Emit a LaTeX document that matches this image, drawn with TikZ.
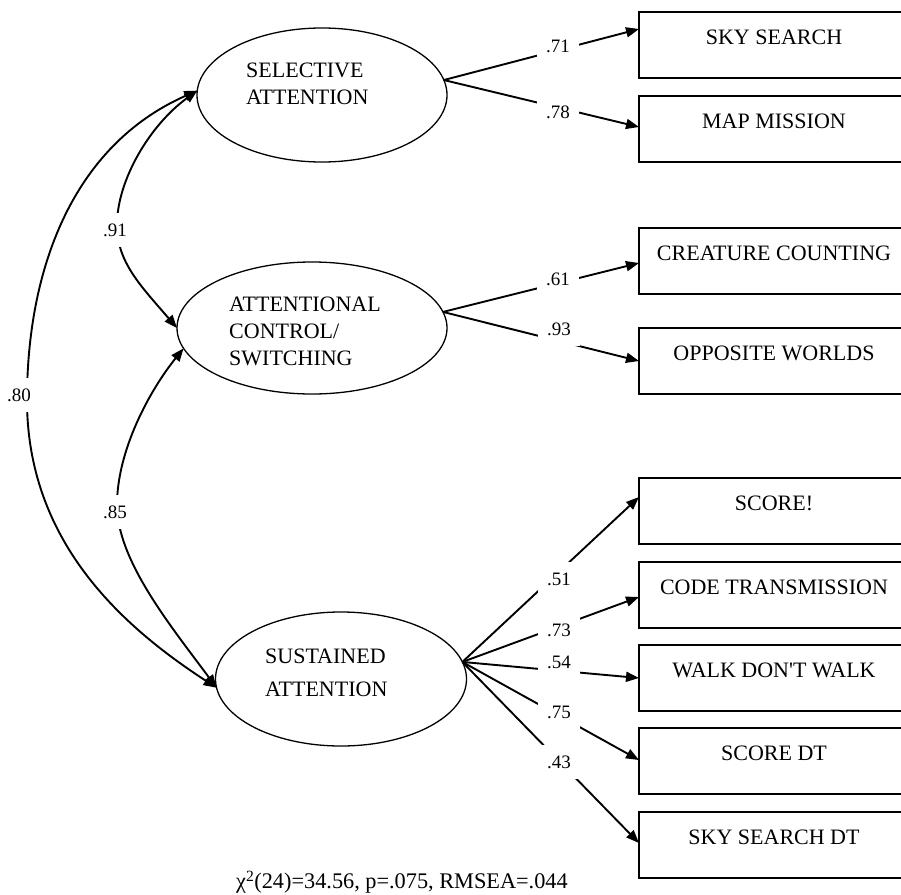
\documentclass[tikz,border=0pt]{standalone}
\usepackage{fontspec}
\setmainfont{Liberation Serif}
\usetikzlibrary{arrows.meta,shapes.geometric}
\begin{document}
\begin{tikzpicture}[x=1pt,y=-1pt,
  lat/.style={draw, ellipse, line width=1.3pt, inner sep=0pt, outer sep=0pt},
  lattxt/.style={anchor=west, align=left, inner sep=0pt, font=\fontsize{22}{27}\selectfont},
  obs/.style={draw, rectangle, line width=1.5pt, minimum width=270pt, inner xsep=0pt, inner ysep=0pt, outer sep=0pt, text height=32pt, text depth=34pt, font=\fontsize{22}{26}\selectfont},
  arr/.style={line width=1.9pt, -{Triangle[length=13pt,width=10pt]}},
  cov/.style={line width=1.9pt, {Triangle[length=13pt,width=10pt]}-{Triangle[length=13pt,width=10pt]}},
  lbl/.style={fill=white, inner xsep=9pt, inner ysep=11pt, font=\fontsize{19}{21}\selectfont}
]
\useasboundingbox (0,0) rectangle (901,894);
\clip (0,0) rectangle (901,894);

% latent variables
\node[lat, minimum width=250pt, minimum height=134pt] (sa) at (322,95) {};
\node[lattxt] (satxt) at (246,84) {SELECTIVE\\ATTENTION};
\node[lat, minimum width=270pt, minimum height=132pt] (ac) at (312,328) {};
\node[lattxt] (actxt) at (229,331) {ATTENTIONAL\\CONTROL/\\SWITCHING};
\node[lat, minimum width=251pt, minimum height=134pt] (su) at (341,679) {};
\node[lattxt, font=\fontsize{22}{33}\selectfont] (sutxt) at (265,673) {SUSTAINED\\ATTENTION};

% observed variables
\node[obs] (b1) at (774,45) {SKY SEARCH};
\node[obs] (b2) at (774,129) {MAP MISSION};
\node[obs] (b3) at (774,261) {CREATURE COUNTING};
\node[obs] (b4) at (774,361) {OPPOSITE WORLDS};
\node[obs] (b5) at (774,511) {SCORE!};
\node[obs] (b6) at (774,595) {CODE TRANSMISSION};
\node[obs] (b7) at (774,678) {WALK DON\textquotesingle T WALK};
\node[obs] (b8) at (774,761) {SCORE DT};
\node[obs] (b9) at (774,845) {SKY SEARCH DT};

% loadings
\draw[arr] (sa.7) -- ([yshift=16pt]b1.west);
\draw[arr] (sa.7) -- ([yshift=2pt]b2.west);
\draw[arr] (ac.7) -- ([yshift=-2pt]b3.west);
\draw[arr] (ac.7) -- (b4.west);
\draw[arr] (su.8) -- ([yshift=14pt]b5.west);
\draw[arr] (su.8) -- ([yshift=-2pt]b6.west);
\draw[arr] (su.8) -- (b7.west);
\draw[arr] (su.8) -- ([yshift=1pt]b8.west);
\draw[arr] (su.8) -- ([yshift=2pt]b9.west);

% correlations
\draw[cov] (ac.180) .. controls (140,285) and (117,262) .. (117,225) .. controls (117,180) and (150,125) .. (sa.178);
\draw[cov] (ac.189) .. controls (150,390) and (117,450) .. (117,505) .. controls (117,560) and (170,625) .. (su.184);
\draw[cov] (sa.178) .. controls (72,146) and (27,270) .. (27,400) .. controls (27,540) and (120,625) .. (su.184);

% labels
\node[lbl] (l71) at (558,46) {.71};
\node[lbl] (l78) at (558,112) {.78};
\node[lbl] (l61) at (558,279) {.61};
\node[lbl] (l93) at (559,329) {.93};
\node[lbl] (l51) at (559,579) {.51};
\node[lbl] (l73) at (559,630) {.73};
\node[lbl] (l54) at (559,662) {.54};
\node[lbl] (l75) at (559,712) {.75};
\node[lbl] (l43) at (559,762) {.43};
\node[lbl] (l91) at (115,230) {.91};
\node[lbl] (l85) at (115,512) {.85};
\node[lbl] (l80) at (19,395) {.80};

\node[font=\fontsize{22.3}{24}\selectfont, inner sep=0pt] (fit) at (402,882) {χ\textsuperscript{2}(24)=34.56, p=.075, RMSEA=.044};
\end{tikzpicture}
\end{document}
